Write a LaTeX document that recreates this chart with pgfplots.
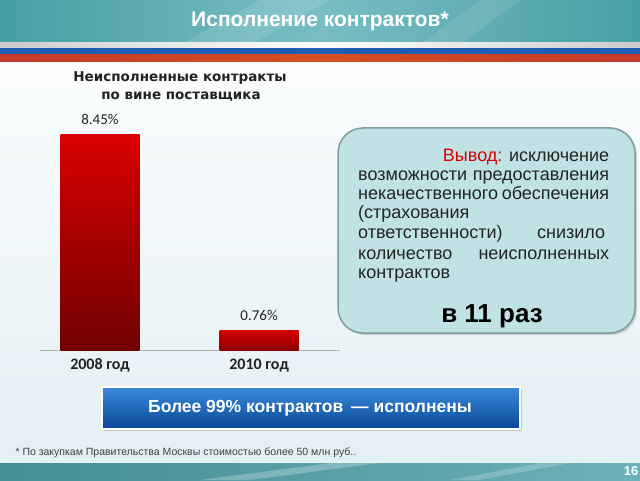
\documentclass[border=0pt]{standalone}
\usepackage{pgfplots}
\pgfplotsset{compat=1.18}
\usepackage{fontspec}
\setmainfont{Liberation Sans}
\newfontfamily\carlito{Carlito}
\newfontfamily\dejavu{DejaVu Sans}
\usetikzlibrary{shadows}
\definecolor{tealA}{RGB}{72,158,165}
\definecolor{tealB}{RGB}{120,190,195}
\definecolor{bgblue}{RGB}{226,239,244}
\definecolor{stripeBlue}{RGB}{30,94,180}
\definecolor{stripeRed}{RGB}{196,58,44}
\definecolor{barTop}{RGB}{218,0,0}
\definecolor{barBot}{RGB}{112,0,0}
\definecolor{bar2Top}{RGB}{212,0,0}
\definecolor{bar2Bot}{RGB}{140,0,0}
\definecolor{boxfill}{RGB}{193,226,229}
\definecolor{boxborder}{RGB}{128,155,160}
\definecolor{btnTop}{RGB}{58,138,216}
\definecolor{btnBot}{RGB}{10,72,152}
\definecolor{txt}{RGB}{35,35,35}
\begin{document}
\begin{tikzpicture}[x=1pt,y=1pt]
\useasboundingbox (0,0) rectangle (640,480);
\clip (0,0) rectangle (640,480);
% background
\shade[top color=white, bottom color=bgblue] (0,0) rectangle (640,480);
% header
\shade[left color=tealA, right color=tealA, middle color=tealB] (0,435) rectangle (640,480);
\fill[white, opacity=0.12] (180,435) -- (260,480) -- (330,480) -- (250,435) -- cycle;
\fill[white, opacity=0.10] (420,435) -- (480,480) -- (520,480) -- (460,435) -- cycle;
\shade[left color=gray!40, right color=gray!40, middle color=white] (0,432) rectangle (640,437);
\fill[stripeBlue] (0,425) rectangle (640,432);
\shade[left color=stripeRed, right color=stripeRed, middle color=stripeRed!70!orange] (0,418) rectangle (640,425);
\node[font=\bfseries\fontsize{21}{21}\selectfont, text=white] at (320,459) {Исполнение контрактов*};
% footer band
\shade[left color=tealA!90!black, right color=tealA!80!white] (0,0) rectangle (640,17);
\fill[white, opacity=0.25] (200,0) -- (330,17) -- (380,17) -- (250,0) -- cycle;
\fill[white, opacity=0.2] (450,0) -- (540,17) -- (570,17) -- (480,0) -- cycle;
\node[font=\bfseries\fontsize{13}{13}\selectfont, text=white] at (631,9) {16};
% chart title
\node[font=\dejavu\bfseries\fontsize{13.5}{13.5}\selectfont, text=txt] at (180,402) {Неисполненные контракты};
\node[font=\dejavu\bfseries\fontsize{13.5}{13.5}\selectfont, text=txt] at (181,383) {по вине поставщика};
% chart
\begin{axis}[at={(100pt,130pt)}, anchor=origin, width=300pt, height=216pt, scale only axis,
  xmin=-0.377, xmax=1.509, ymin=0, ymax=8.45,
  hide y axis, axis x line*=bottom,
  axis line style={draw=gray!60, line width=1pt, -},
  xtick={0,1}, xticklabels={2008 год, 2010 год}, major tick length=0pt,
  xticklabel style={font=\carlito\bfseries\fontsize{16}{16}\selectfont, text=txt, yshift=-5pt},
  bar width=79pt, clip=false,
  nodes near coords, point meta=explicit symbolic,
  every node near coord/.append style={font=\carlito\fontsize{15}{15}\selectfont, text=txt, yshift=6pt}]
\addplot[ybar, bar shift=0pt, draw=none, top color=barTop, bottom color=barBot] coordinates {(0,8.45) [8.45\%]};
\addplot[ybar, bar shift=0pt, draw=none, top color=bar2Top, bottom color=bar2Bot] coordinates {(1,0.76) [0.76\%]};
\end{axis}
% callout box
\draw[draw=boxborder, line width=1.5pt, fill=boxfill, rounded corners=25pt,
  drop shadow={opacity=0.3, shadow xshift=2pt, shadow yshift=-2pt}] (338,147) rectangle (635,352);
\begin{scope}[every node/.style={anchor=base west, inner sep=0pt, font=\fontsize{18}{18}\selectfont, text=txt}]
\node at (358,318) {\hbox to 251pt{\hfill{\color{red!85!black}Вывод:} исключение}};
\node at (358,299) {\hbox to 251pt{возможности\hfill предоставления}};
\node at (358,280) {\hbox to 251pt{некачественного\hfill обеспечения}};
\node at (358,261) {\hbox to 251pt{(страхования\hfill}};
\node at (358,241) {\hbox to 251pt{ответственности)\hfill снизило\hspace{4pt}}};
\node at (358,221) {\hbox to 251pt{количество\hfill неисполненных}};
\node at (358,202) {\hbox to 251pt{контрактов\hfill}};
\end{scope}
\node[anchor=base, font=\bfseries\fontsize{26}{26}\selectfont, text=black] at (492,158) {в 11 раз};
% button
\shade[top color=btnTop, bottom color=btnBot, drop shadow={opacity=0.35, shadow xshift=2pt, shadow yshift=-2pt}] (102,51) rectangle (520,93);
\draw[white, line width=1.5pt] (102,51) rectangle (520,93);
\node[anchor=base, font=\bfseries\fontsize{17.5}{17.5}\selectfont, text=white] at (310,68) {Более 99\% контрактов \,— исполнены};
% footnote
\node[anchor=base west, font=\fontsize{10.5}{10.5}\selectfont, text=black!75] at (12,25) {* По закупкам Правительства Москвы стоимостью более 50 млн руб..};
\end{tikzpicture}
\end{document}
